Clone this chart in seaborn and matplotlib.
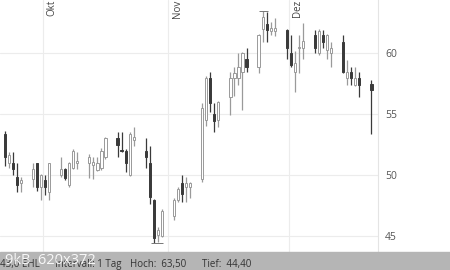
import matplotlib
matplotlib.use("Agg")
import matplotlib.pyplot as plt
import matplotlib.dates as mdates
import seaborn as sns
import pandas as pd
import numpy as np

dates = ["2020-09-21","2020-09-22","2020-09-23","2020-09-24","2020-09-25",
         "2020-09-28","2020-09-29","2020-09-30","2020-10-01","2020-10-02",
         "2020-10-05","2020-10-06","2020-10-07","2020-10-08","2020-10-09",
         "2020-10-12","2020-10-13","2020-10-14","2020-10-15","2020-10-16",
         "2020-10-19","2020-10-20","2020-10-21","2020-10-22","2020-10-23",
         "2020-10-26","2020-10-27","2020-10-28","2020-10-29","2020-10-30",
         "2020-11-02","2020-11-03","2020-11-04","2020-11-05","2020-11-06",
         "2020-11-09","2020-11-10","2020-11-11","2020-11-12","2020-11-13",
         "2020-11-16","2020-11-17","2020-11-18","2020-11-19","2020-11-20",
         "2020-11-23","2020-11-24","2020-11-25","2020-11-26","2020-11-27",
         "2020-11-30","2020-12-01","2020-12-02","2020-12-03","2020-12-04",
         "2020-12-07","2020-12-08","2020-12-09","2020-12-10","2020-12-11",
         "2020-12-14","2020-12-15","2020-12-16","2020-12-17","2020-12-18",
         "2020-12-21"]
open_ = [53.4, 51.0, 51.0, 49.8, 49.35,
         49.7, 51.0, 49.0, 49.6, 48.6,
         50.0, 50.5, 49.2, 50.6, 51.0,
         51.0, 50.8, 50.4, 50.6, 51.5,
         53.0, 52.05, 52.0, 50.0, 52.9,
         52.0, 51.0, 47.9, 45.05, 45.0,
         46.6, 47.9, 49.3, 49.0, 49.0,
         49.7, 54.5, 58.0, 55.0, 54.5,
         56.4, 58.0, 58.0, 58.45, 59.5,
         58.9, 62.0, 62.4, 61.8, 61.8,
         61.9, 60.0, 58.5, 60.4, 60.4,
         61.5, 60.0, 61.5, 60.3, 60.0,
         60.9, 58.0, 58.45, 57.4, 58.0,
         57.5]
high = [53.6, 51.9, 51.9, 51.0, 49.8,
        51.0, 51.0, 50.1, 50.0, 51.0,
        51.5, 50.6, 51.1, 52.1, 51.9,
        51.7, 51.5, 51.5, 52.2, 53.1,
        53.5, 53.5, 52.1, 53.5, 53.95,
        53.0, 52.4, 48.0, 45.7, 47.2,
        48.1, 49.0, 50.0, 49.8, 49.4,
        55.9, 58.1, 58.5, 55.9, 56.1,
        58.5, 58.9, 60.0, 60.1, 60.4,
        61.6, 63.5, 63.4, 62.6, 62.9,
        62.0, 61.5, 60.2, 61.5, 62.5,
        61.9, 62.0, 61.9, 61.6, 60.9,
        61.5, 59.45, 58.9, 58.9, 58.45,
        57.8]
low = [50.7, 50.6, 50.0, 48.6, 48.6,
       49.0, 48.7, 47.9, 48.35, 47.9,
       49.8, 49.6, 49.0, 50.5, 50.5,
       49.75, 49.7, 50.3, 50.4, 51.3,
       51.5, 51.9, 50.2, 49.9, 52.4,
       50.6, 47.6, 44.4, 44.5, 44.9,
       46.3, 47.8, 47.8, 47.8, 48.1,
       49.4, 54.0, 55.2, 53.5, 53.9,
       54.9, 56.5, 57.4, 55.3, 58.5,
       58.4, 60.9, 60.9, 61.5, 61.4,
       59.5, 58.9, 56.8, 58.4, 59.5,
       60.0, 59.9, 60.4, 59.5, 58.9,
       58.4, 57.4, 57.4, 57.3, 56.4,
       53.4]
close = [51.5, 51.6, 50.5, 49.2, 49.6,
         50.5, 49.0, 50.0, 49.0, 51.0,
         50.5, 49.75, 51.0, 51.95, 51.1,
         51.5, 51.1, 51.0, 52.0, 53.0,
         52.45, 51.95, 51.0, 53.4, 53.1,
         51.5, 48.2, 44.8, 45.45, 47.0,
         47.9, 48.8, 48.4, 49.3, 49.3,
         55.5, 58.0, 55.9, 54.4, 56.0,
         58.0, 58.4, 58.9, 60.0, 58.9,
         61.5, 63.0, 61.9, 62.1, 62.1,
         60.4, 59.0, 59.2, 60.5, 61.0,
         60.4, 61.8, 60.9, 61.5, 60.4,
         58.45, 58.45, 58.0, 58.0, 57.4,
         57.0]
month_starts = ["2020-10-01", "2020-11-01", "2020-12-01"]
month_labels = ["Okt", "Nov", "Dez"]
y_ticks = [45, 50, 55, 60]
footer_texts = ["43,0 EHL", "Intervall: 1 Tag", "Hoch:  63,50", "Tief:  44,40"]

df = pd.DataFrame({"date": pd.to_datetime(dates), "open": open_, "high": high,
                   "low": low, "close": close})
df["t"] = mdates.date2num(df["date"]) + 0.5
df["up"] = df["close"] >= df["open"]

sns.set_theme(style="white")
plt.rcParams["font.family"] = ["Open Sans", "DejaVu Sans"]

fig = plt.figure(figsize=(4.5, 2.7), dpi=100)
ax = fig.add_axes([0, 1 - 255 / 270, 378 / 450, 255 / 270])

up_col = "#9a9a9a"
dn_col = "#3a3a3a"
for up, grp in df.groupby("up"):
    col = up_col if up else dn_col
    ax.vlines(grp["t"], grp["low"], grp["high"], color=col, lw=0.9, zorder=2)
    bottoms = np.minimum(grp["open"], grp["close"])
    heights = np.maximum(np.abs(grp["close"] - grp["open"]), 0.12)
    ax.bar(grp["t"], heights, bottom=bottoms, width=0.55,
           color="white" if up else dn_col, edgecolor=col, linewidth=0.7, zorder=3)

# high / low markers
imax = df["high"].idxmax()
imin = df["low"].idxmin()
ax.hlines(df.loc[imax, "high"], df.loc[imax, "t"] - 1, df.loc[imax, "t"] + 1.4,
          color="#777777", lw=0.7, zorder=4)
ax.hlines(df.loc[imin, "low"], df.loc[imin, "t"] - 0.6, df.loc[imin, "t"] + 2.2,
          color="#777777", lw=0.7, zorder=4)

t0 = mdates.date2num(pd.Timestamp("2020-10-01")) - 43 / 4.03
ax.set_xlim(t0, t0 + 378 / 4.03)
px = 12.16
ax.set_ylim(60 - (255 - 53.3) / px, 60 + 53.3 / px)

for y in y_ticks:
    ax.axhline(y, color="#ececec", lw=0.8, zorder=0)
for m, lab in zip(month_starts, month_labels):
    tm = mdates.date2num(pd.Timestamp(m))
    ax.axvline(tm, color="#ececec", lw=0.8, zorder=0)
    ax.text(tm + 0.9, ax.get_ylim()[1] + 0.05, lab, rotation=90, ha="left", va="top",
            fontsize=7, color="#444444")

ax.yaxis.tick_right()
ax.set_yticks(y_ticks)
ax.set_yticklabels([str(v) for v in y_ticks], fontsize=7.5, color="#555555")
ax.tick_params(axis="y", length=0, pad=5)
ax.set_xticks([])
for s in ["top", "left", "bottom"]:
    ax.spines[s].set_visible(False)
ax.spines["right"].set_color("#e4e4e4")
ax.spines["right"].set_linewidth(0.8)
ax.set_facecolor("white")

# footer band
fig.patches.append(plt.Rectangle((0, 0), 1, 18 / 270, transform=fig.transFigure,
                                 color="#b5b5b5", zorder=5))
fy = 6 / 270
fig.text(0 / 450, fy, footer_texts[0], fontsize=7, color="#333333", va="center", zorder=6)
fig.text(55 / 450, fy, footer_texts[1], fontsize=7, color="#333333", va="center", zorder=6)
fig.text(130 / 450, fy, footer_texts[2], fontsize=7, color="#333333", va="center", zorder=6)
fig.text(202 / 450, fy, footer_texts[3], fontsize=7, color="#333333", va="center", zorder=6)
fig.text(5 / 450, 9 / 270, "9kB  620x372", fontsize=10.5, color="white", alpha=0.9,
         va="center", zorder=7)

fig.savefig("out.png", dpi=100)
